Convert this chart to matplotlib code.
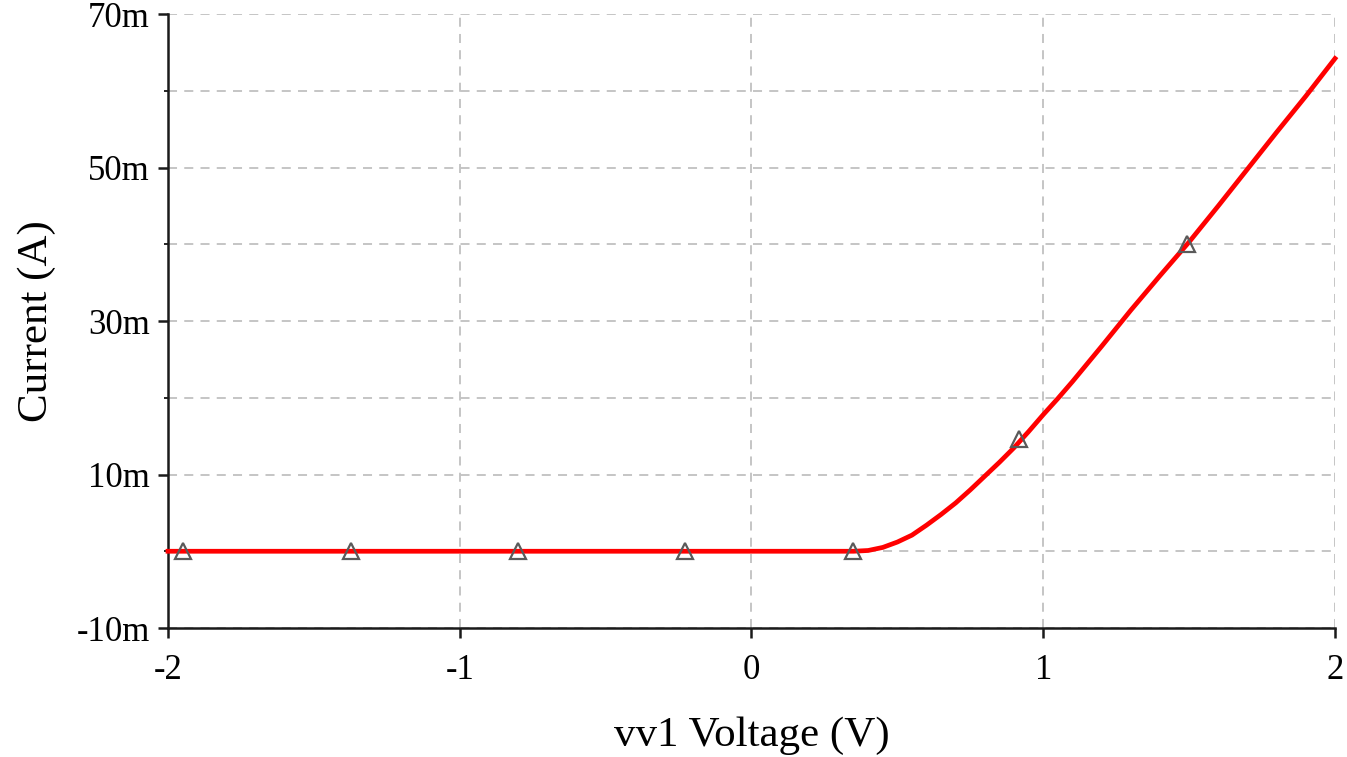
import matplotlib
matplotlib.use('Agg')
import matplotlib.pyplot as plt
from matplotlib.ticker import FuncFormatter, MultipleLocator

# 数据：二极管 I-V 曲线（电流单位 mA）
voltage = [-2.0, 0.35, 0.40, 0.45, 0.50, 0.55, 0.60, 0.65, 0.70, 0.75, 0.80,
           0.85, 0.90, 0.95, 1.00, 1.05, 1.10, 1.20, 1.30, 1.40, 1.50, 1.60,
           1.70, 1.80, 1.90, 2.00]
current = [0.0, 0.0, 0.1, 0.5, 1.2, 2.1, 3.4, 4.8, 6.3, 8.0, 9.8,
           11.6, 13.5, 15.6, 17.8, 19.9, 22.1, 26.7, 31.4, 35.9, 40.3, 45.0,
           49.8, 54.6, 59.3, 64.2]

# 曲线上的三角形标记
marker_v = [-1.948, -1.372, -0.800, -0.228, 0.348, 0.917, 1.493]
marker_i = [0.0, 0.0, 0.0, 0.0, 0.0, 14.6, 40.0]

x_ticks = [-2, -1, 0, 1, 2]
y_ticks = [-10, 10, 30, 50, 70]

plt.rcParams['font.family'] = ['Liberation Serif', 'DejaVu Serif']
plt.rcParams['axes.unicode_minus'] = False

fig = plt.figure(figsize=(13.47, 7.57), dpi=100)
ax = fig.add_axes([0.1247, 0.1704, 0.8664, 0.8111])

ax.plot(voltage, current, color='#ff0000', lw=3.4, zorder=3, clip_on=False)
ax.plot(marker_v, marker_i, linestyle='none', marker='^', markersize=12,
        markerfacecolor='none', markeredgecolor='#5a5a5a', markeredgewidth=1.6,
        zorder=4, clip_on=False)

ax.set_xlim(-2, 2)
ax.set_ylim(-10, 70)
ax.set_xticks(x_ticks)
ax.set_yticks(y_ticks)
ax.yaxis.set_minor_locator(MultipleLocator(10))
ax.yaxis.set_major_formatter(FuncFormatter(lambda v, p: f'{int(v)}m'))

ax.grid(True, which='both', color='#c0c0c0', linestyle=(0, (5, 4)), lw=1.3)
ax.set_axisbelow(True)

for side in ['top', 'right']:
    ax.spines[side].set_visible(False)
for side in ['left', 'bottom']:
    ax.spines[side].set_linewidth(1.8)
    ax.spines[side].set_color('#1a1a1a')

ax.tick_params(axis='both', which='major', direction='out', length=7,
               width=1.8, labelsize=25, color='#1a1a1a')
ax.tick_params(axis='x', which='major', pad=12)
ax.tick_params(axis='y', which='major', pad=6)
ax.tick_params(axis='y', which='minor', direction='out', length=3, width=1.2)

ax.set_xlabel('vv1 Voltage (V)', fontsize=31, labelpad=21)
ax.set_ylabel('Current (A)', fontsize=31, labelpad=15)

fig.savefig('out.png', dpi=100)
plt.close(fig)
